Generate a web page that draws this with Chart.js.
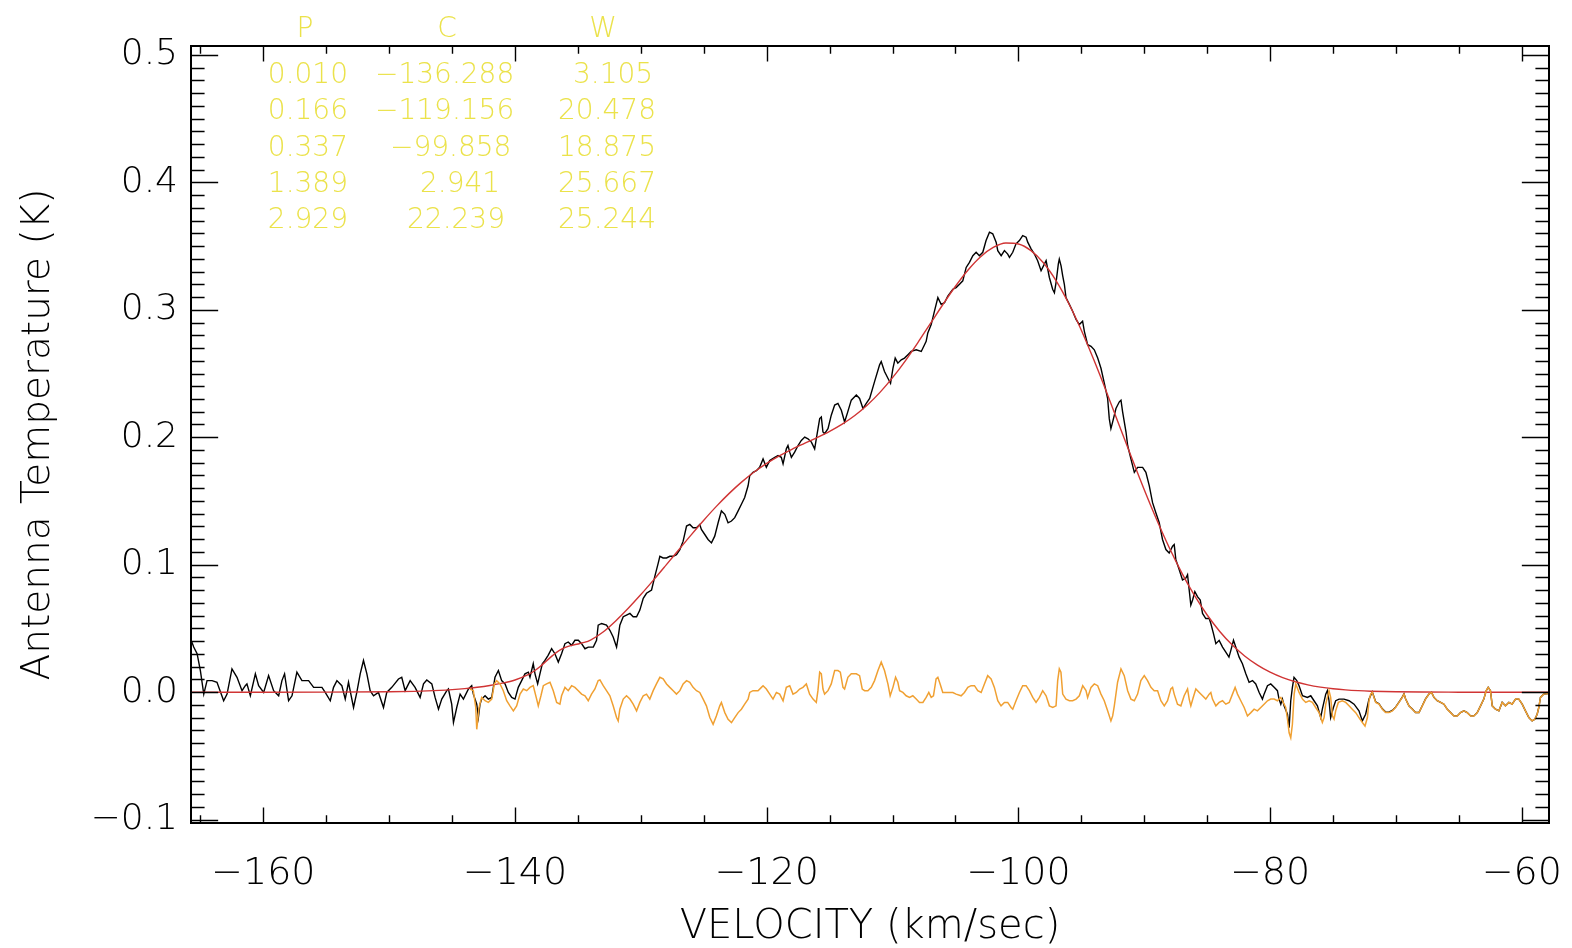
<!DOCTYPE html>
<html>
<head>
<meta charset="utf-8">
<script src="https://cdn.jsdelivr.net/npm/chart.js@4"></script>
<style>
  html, body { margin: 0; padding: 0; background: #ffffff; overflow: hidden; }
  canvas { display: block; background: #ffffff; }
</style>
</head>
<body>
<canvas id="c" width="1572" height="948"></canvas>
<script>
// ---------------- data ----------------
// Gaussian fit parameters shown in the table
const fitPeak   = ['0.010', '0.166', '0.337', '1.389', '2.929'];
const fitCenter = ['\u2212136.288', '\u2212119.156', '\u221299.858', '2.941', '22.239'];
const fitWidth  = ['3.105', '20.478', '18.875', '25.667', '25.244'];
const tableHeaders = ['P', 'C', 'W'];

// Observed spectrum (black), in pieces
const obsVelA = [-165.70,-165.53,-165.26,-165.00,-164.73,-164.47,-164.07,-163.68,-163.15,-162.88,
  -162.49,-162.09,-161.69,-161.43,-161.30,-161.03,-160.63,-160.37,-159.97,-159.58,
  -159.18,-158.78,-158.52,-158.31,-157.99,-157.72,-157.33,-156.93,-156.40,-156.00,
  -155.34,-155.08,-154.68,-154.42,-154.15,-153.76,-153.49,-153.23,-153.10,-152.83,
  -152.57,-152.30,-152.04,-151.77,-151.51,-151.24,-150.85,-150.45,-150.19,-149.79,
  -149.26,-149.00,-148.73,-148.33,-147.94,-147.54,-147.27,-147.01,-146.61,-146.35,
  -146.08,-145.82,-145.42,-145.29,-145.03,-144.89,-144.63,-144.36,-144.10];
const obsTempA = [0.040,0.0354,0.0302,0.0170,-0.0015,0.0091,0.0091,0.0078,-0.0067,-0.0015,
  0.0183,0.0117,0.0012,0.0051,0.0065,-0.0028,0.0144,0.0051,-0.0002,0.0130,
  0.0012,-0.0028,0.0091,0.0144,-0.0067,-0.0028,0.0157,0.0091,0.0091,0.0038,
  0.0038,-0.0002,-0.0067,0.0038,0.0091,0.0051,-0.0054,0.0078,0.0012,-0.0120,
  -0.0002,0.0144,0.0249,0.0144,0.0012,-0.0028,-0.0002,-0.0120,-0.0002,0.0038,
  0.0104,0.0117,0.0012,0.0091,0.0038,-0.0041,0.0065,0.0096,0.0065,-0.0041,
  -0.0133,-0.0054,0.0012,0.0025,-0.0094,-0.0238,-0.0120,-0.0015,-0.0054];

const obsVelB = [-143.70,-143.44,-143.31,-143.04,-142.91,-142.78,-142.65,-142.38,-142.12,-141.85,
  -141.72,-141.59,-141.32,-141.06,-140.79,-140.53,-140.26,-140.00,-139.74,-139.47,
  -139.21,-138.94,-138.81,-138.55,-138.41,-138.20,-138.02,-137.83,-137.62,-137.37,
  -137.09,-136.83,-136.56,-136.30,-136.03,-135.77,-135.50,-135.24,-134.97,-134.71,
  -134.44,-134.18,-133.78,-133.52,-133.39,-133.12,-132.73,-132.46,-132.20,-131.93,
  -131.80,-131.67,-131.40,-131.14,-130.87,-130.61,-130.34,-130.08,-129.81,-129.55,
  -129.15,-128.89,-128.62,-128.49,-128.23,-127.96,-127.70,-127.43,-127.17,-126.90,
  -126.64,-126.37,-126.11,-125.85,-125.58,-125.32,-125.19,-124.92,-124.66,-124.39,
  -124.13,-123.86,-123.60,-123.33,-123.07,-122.80,-122.54,-122.27,-122.01,-121.75,
  -121.48,-121.35,-121.09,-120.82,-120.56,-120.29];
const obsTempB = [0.0025,0.0051,-0.0015,-0.0094,-0.0199,-0.0094,-0.0054,-0.0028,-0.0054,-0.0041,
  0.0038,0.0117,0.0170,0.0091,0.0065,-0.0002,-0.0041,-0.0054,0.0038,0.0091,
  0.0144,0.0157,0.0117,0.0223,0.0144,0.0065,0.0144,0.0223,0.0249,0.0289,
  0.0341,0.0302,0.0236,0.0302,0.0381,0.0394,0.0368,0.0407,0.0407,0.0381,
  0.0341,0.0354,0.0354,0.0407,0.0526,0.0539,0.0526,0.0486,0.0433,0.0354,
  0.0433,0.0526,0.0592,0.0605,0.0618,0.0592,0.0592,0.0644,0.0736,0.0776,
  0.0802,0.0908,0.1013,0.1066,0.1053,0.1053,0.1066,0.1066,0.1079,0.1119,
  0.1185,0.1303,0.1316,0.1290,0.1290,0.1316,0.1277,0.1237,0.1198,0.1171,
  0.1224,0.1329,0.1422,0.1395,0.1329,0.1343,0.1369,0.1422,0.1474,0.1527,
  0.1619,0.1698,0.1725,0.1738,0.1764,0.1830];

const obsVelC = [-120.03,-119.76,-119.36,-119.10,-118.84,-118.70,-118.44,-118.31,-118.17,-118.04,
  -117.78,-117.51,-117.25,-116.98,-116.72,-116.45,-116.19,-116.06,-115.79,-115.66,
  -115.53,-115.40,-115.13,-114.87,-114.60,-114.34,-114.07,-113.81,-113.56,-113.28,
  -112.88,-112.62,-112.35,-112.09,-111.82,-111.43,-111.03,-110.90,-110.64,-110.37,
  -110.16,-109.97,-109.79,-109.58,-109.31,-109.05,-108.78,-108.52,-108.12,-107.72,
  -107.46,-107.33,-107.20,-106.93,-106.67,-106.40,-106.14,-105.87,-105.61,-105.21,
  -104.95,-104.68,-104.42,-104.15,-103.89,-103.62,-103.36,-103.10,-102.83,-102.57,
  -102.30,-102.04,-101.77,-101.64,-101.37];
const obsTempC = [0.1764,0.1817,0.1843,0.1856,0.1843,0.1791,0.1909,0.1935,0.1883,0.1843,
  0.1883,0.1935,0.1975,0.2001,0.1988,0.1962,0.1909,0.1988,0.2146,0.2159,
  0.2041,0.2028,0.2067,0.2173,0.2252,0.2265,0.2212,0.2120,0.2199,0.2291,
  0.2331,0.2304,0.2225,0.2265,0.2304,0.2436,0.2568,0.2594,0.2515,0.2463,
  0.2423,0.2541,0.2621,0.2581,0.2607,0.2621,0.2647,0.2673,0.2686,0.2673,
  0.2726,0.2752,0.2818,0.2884,0.2989,0.3095,0.3042,0.3055,0.3108,0.3161,
  0.3174,0.3200,0.3227,0.3332,0.3372,0.3424,0.3451,0.3424,0.3451,0.3543,
  0.3609,0.3596,0.3530,0.3464,0.3424];

const obsVelD = [-101.11,-100.85,-100.71,-100.45,-100.19,-99.92,-99.66,-99.39,-99.26,-98.99,
  -98.73,-98.47,-98.20,-97.94,-97.80,-97.54,-97.28,-97.14,-97.01,-96.83,
  -96.75,-96.61,-96.48,-96.35,-96.22,-95.95,-95.69,-95.42,-95.16,-94.90,
  -94.76,-94.50,-94.23,-93.97,-93.70,-93.44,-93.17,-92.91,-92.78,-92.65,
  -92.51,-92.25,-91.98,-91.85,-91.72,-91.45,-91.32,-91.06,-90.79,-90.53,
  -90.13,-89.87,-89.60,-89.34,-89.08,-88.81,-88.55,-88.28,-88.02,-87.75,
  -87.62,-87.49,-87.22,-86.96];
const obsTempD = [0.3464,0.3437,0.3411,0.3451,0.3517,0.3543,0.3582,0.3569,0.3530,0.3478,
  0.3437,0.3385,0.3306,0.3358,0.3385,0.3253,0.3161,0.3134,0.3213,0.3358,
  0.3398,0.3345,0.3266,0.3200,0.3095,0.3042,0.2989,0.2924,0.2884,0.2910,
  0.2831,0.2726,0.2713,0.2686,0.2621,0.2541,0.2423,0.2304,0.2146,0.2067,
  0.2120,0.2225,0.2278,0.2291,0.2199,0.2041,0.1935,0.1830,0.1725,0.1764,
  0.1764,0.1725,0.1619,0.1487,0.1408,0.1329,0.1198,0.1119,0.1092,0.1145,
  0.1158,0.1040,0.0960,0.0881];

const obsVelE = [-86.69,-86.56,-86.43,-86.30,-86.16,-85.98,-85.77,-85.55,-85.37,-85.11,
  -84.84,-84.71,-84.50,-84.31,-84.05,-83.78,-83.52,-83.27,-83.12,-82.91,
  -82.73,-82.46,-82.20,-81.93,-81.67,-81.40,-81.14,-80.87,-80.61,-80.48,
  -80.21,-79.95,-79.68,-79.42,-79.29,-79.15,-79.02,-78.89,-78.62,-78.49,
  -78.36,-78.23,-78.10,-77.88,-77.70,-77.43,-77.04,-76.77,-76.51,-76.24,
  -75.98,-75.85,-75.58,-75.45,-75.32,-75.19,-74.97,-74.79,-74.52,-74.13,
  -73.73,-73.33,-72.94,-72.67,-72.41,-72.14];
const obsTempE = [0.0895,0.0921,0.0802,0.0684,0.0723,0.0789,0.0750,0.0723,0.0618,0.0578,
  0.0578,0.0539,0.0460,0.0381,0.0407,0.0354,0.0315,0.0275,0.0328,0.0407,
  0.0354,0.0275,0.0223,0.0144,0.0078,0.0091,0.0065,-0.0002,-0.0054,-0.0015,
  0.0051,0.0065,0.0038,0.0012,-0.0054,-0.0094,-0.0054,-0.0107,-0.0173,-0.0278,
  -0.0067,0.0038,0.0117,0.0091,0.0051,-0.0028,-0.0041,-0.0028,-0.0067,-0.0107,
  -0.0199,-0.0133,-0.0015,0.0012,-0.0067,-0.0199,-0.0120,-0.0067,-0.0054,-0.0054,
  -0.0067,-0.0094,-0.0146,-0.0225,-0.0173,-0.0054];

const obsVelF = [-71.88,-71.61,-71.35,-71.08,-70.82,-70.56,-70.29,-70.03,-69.76,-69.50,
  -69.36,-69.23,-68.97,-68.70,-68.44,-68.17,-67.91,-67.65,-67.38,-67.17,
  -66.98,-66.72,-66.45,-66.19,-65.93,-65.66,-65.40,-65.13,-64.87,-64.60,
  -64.34,-64.07,-63.81,-63.54,-63.28,-63.02,-62.83,-62.67,-62.49,-62.35,
  -62.09,-61.82,-61.56,-61.30,-61.03,-60.77,-60.50,-60.24,-59.97,-59.71,
  -59.44,-59.18,-58.97,-58.78,-58.65,-58.52,-58.26,-57.90];
const obsTempF = [0.0003,-0.0076,-0.0090,-0.0130,-0.0156,-0.0157,-0.0143,-0.0117,-0.0078,-0.0039,
  -0.0013,-0.0053,-0.0106,-0.0132,-0.0159,-0.0159,-0.0106,-0.0053,-0.0014,-0.0001,
  -0.0041,-0.0067,-0.0080,-0.0094,-0.0133,-0.0160,-0.0186,-0.0186,-0.0160,-0.0146,
  -0.0160,-0.0186,-0.0186,-0.0160,-0.0107,-0.0054,0.0012,0.0038,0.0012,-0.0107,
  -0.0133,-0.0146,-0.0080,-0.0107,-0.0080,-0.0094,-0.0054,-0.0054,-0.0094,-0.0146,
  -0.0199,-0.0225,-0.0212,-0.0173,-0.0120,-0.0041,-0.0015,-0.0010];

// Gaussian fit (red)
const fitVel = [-165.7,-160,-155,-150,-148,-146,-145,-144,-143,-142,-141,-140,-139,-138.5,-138,
  -137.5,-137,-136.5,-136,-135.5,-135,-134.5,-134,-133,-132,-131,-130,-129,-128,-127,-126,
  -125,-124,-123,-122,-121,-120,-119,-118,-117,-116,-115,-114,-113,-112,-111,-110,-109,
  -108,-107,-106,-105,-104,-103,-102,-101,-100,-99,-98,-97,-96,-95,-94,-93,-92,-91,-90,
  -89,-88,-87,-86,-85,-84,-83,-82,-81,-80,-79,-78,-77,-76,-75,-74,-73,-72,-71,-70,-68,-65,-57.84];
const fitTemp = [0,0,0.00003,0.00031,0.00068,0.00142,0.0020,0.0028,0.00387,0.00527,0.00708,0.00957,0.0135,0.01646,0.02016,
  0.02452,0.02886,0.03263,0.03519,0.03678,0.0378,0.03903,0.04093,0.04727,0.05594,0.06584,0.07658,0.08793,0.09969,0.1116,0.12343,
  0.1349,0.14576,0.15577,0.16478,0.17271,0.17955,0.18544,0.19056,0.19521,0.19978,0.20467,0.2103,0.21709,0.22532,0.23519,0.24672,0.25977,
  0.27408,0.28907,0.30412,0.31845,0.33123,0.34163,0.34889,0.35237,0.35162,0.34639,0.33668,0.32271,0.30493,0.28397,0.26054,0.23551,0.20967,0.18387,0.15879,
  0.13504,0.11308,0.09326,0.07573,0.06054,0.04766,0.03694,0.02819,0.02118,0.01566,0.01141,0.00818,0.00578,0.00402,0.00275,0.00185,0.00123,0.0008,0.00052,0.00033,0.00012,0.00002,0];

// Residual (orange), in pieces
const resVelA = [-143.57,-143.31,-143.12,-143.04,-142.86,-142.65,-142.38,-142.12,-141.85,-141.64,
  -141.46,-141.19,-140.93,-140.66,-140.40,-140.13,-139.87,-139.60,-139.34,-139.07,
  -138.81,-138.55,-138.28,-138.15,-137.94,-137.75,-137.49,-137.22,-136.96,-136.69,
  -136.43,-136.30,-136.03,-135.77,-135.50,-135.24,-134.97,-134.71,-134.44,-134.18,
  -133.92,-133.65,-133.39,-133.25,-132.99,-132.73,-132.46,-132.20,-131.93,-131.80,
  -131.67,-131.40,-131.14,-130.87,-130.61,-130.34,-130.08,-129.81,-129.55,-129.29,
  -129.02,-128.76,-128.49,-128.23,-127.96,-127.70,-127.43,-127.17,-126.90,-126.64,
  -126.37,-126.11,-125.85,-125.58,-125.32,-125.05,-124.79,-124.52,-124.26,-124.00,
  -123.73,-123.60,-123.33,-123.07,-122.80,-122.54,-122.27,-122.01,-121.75,-121.48,
  -121.35,-121.09,-120.69,-120.42,-120.29,-120.03,-119.76,-119.50,-119.23,-118.97,
  -118.70,-118.44,-118.17,-117.91,-117.65,-117.38,-117.12,-116.85,-116.59,-116.32,
  -116.06,-115.93,-115.79,-115.66];
const resTempA = [0.0025,0.0012,-0.0120,-0.0291,-0.0120,-0.0041,-0.0067,-0.0080,-0.0054,0.0065,
  0.0091,0.0065,0.0012,-0.0067,-0.0107,-0.0146,-0.0107,-0.0015,0.0025,0.0012,
  0.0038,0.0051,-0.0054,-0.0107,-0.0028,0.0051,0.0065,0.0078,0.0012,-0.0080,
  -0.0094,-0.0028,0.0038,0.0012,0.0051,0.0038,0.0012,-0.0015,-0.0028,-0.0067,
  -0.0015,0.0025,0.0091,0.0096,0.0051,0.0012,-0.0028,-0.0107,-0.0199,-0.0225,
  -0.0133,-0.0054,-0.0028,-0.0054,-0.0094,-0.0146,-0.0080,-0.0028,-0.0015,-0.0054,
  0.0012,0.0065,0.0117,0.0104,0.0065,0.0038,0.0012,-0.0015,0.0012,0.0065,
  0.0091,0.0078,0.0038,0.0012,-0.0002,-0.0054,-0.0107,-0.0199,-0.0252,-0.0186,
  -0.0107,-0.0080,-0.0160,-0.0212,-0.0238,-0.0199,-0.0160,-0.0133,-0.0094,-0.0054,
  -0.0002,0.0012,0.0012,0.0038,0.0051,0.0025,-0.0015,-0.0054,-0.0002,-0.0015,
  -0.0067,0.0038,0.0051,-0.0015,-0.0002,0.0025,0.0038,0.0065,-0.0015,-0.0054,
  -0.0080,0.0012,0.0157,0.0144];

const resVelB = [-115.53,-115.40,-115.13,-114.87,-114.60,-114.34,-114.15,-113.94,-113.81,-113.55,
  -113.28,-112.88,-112.62,-112.41,-112.22,-111.96,-111.69,-111.43,-111.16,-110.90,
  -110.64,-110.37,-110.19,-109.97,-109.76,-109.58,-109.44,-109.18,-108.92,-108.65,
  -108.39,-108.12,-107.86,-107.59,-107.33,-107.12,-106.93,-106.75,-106.54,-106.40,
  -106.22,-106.01,-105.61,-105.21,-104.95,-104.55,-104.29,-104.02,-103.76,-103.49,
  -103.23,-102.96,-102.70,-102.44,-102.17,-101.91,-101.64,-101.38,-101.11,-100.85,
  -100.58,-100.45,-100.19,-99.92,-99.66,-99.39,-99.13,-98.86,-98.60,-98.33,
  -98.07,-97.80,-97.54,-97.27,-97.01,-96.88,-96.75,-96.62,-96.48,-96.22,
  -95.95,-95.69,-95.42,-95.16,-94.89,-94.63,-94.50,-94.23,-93.97,-93.70,
  -93.44,-93.18,-92.91,-92.65,-92.51,-92.38,-92.12,-91.85,-91.59,-91.32,
  -91.06,-90.79,-90.53,-90.27,-90.00,-89.74,-89.47,-89.21,-88.94,-88.68,
  -88.41,-88.15,-87.89,-87.75,-87.62,-87.36,-87.09,-86.83,-86.56];
const resTempB = [0.0025,-0.0015,0.0012,0.0065,0.0170,0.0170,0.0157,0.0038,0.0025,0.0117,
  0.0144,0.0144,0.0130,0.0025,0.0012,0.0012,0.0038,0.0091,0.0170,0.0236,
  0.0170,0.0065,-0.0028,0.0038,0.0117,0.0078,0.0012,-0.0002,-0.0028,-0.0041,
  -0.0028,-0.0054,-0.0080,-0.0080,-0.0041,-0.0002,-0.0041,-0.0028,0.0104,0.0117,
  0.0065,-0.0002,-0.0002,-0.0002,-0.0015,-0.0028,-0.0002,0.0038,0.0051,0.0051,
  0.0012,-0.0002,0.0065,0.0130,0.0104,0.0038,-0.0067,-0.0107,-0.0080,-0.0080,
  -0.0120,-0.0133,-0.0067,-0.0002,0.0051,0.0051,0.0012,-0.0041,-0.0080,-0.0041,
  0.0012,-0.0028,-0.0107,-0.0120,-0.0107,0.0091,0.0183,0.0157,-0.0015,-0.0054,
  -0.0067,-0.0067,-0.0054,-0.0028,0.0051,0.0012,-0.0041,0.0038,0.0065,0.0051,
  -0.0015,-0.0067,-0.0146,-0.0225,-0.0186,-0.0107,0.0078,0.0183,0.0130,0.0012,
  -0.0054,-0.0067,-0.0015,0.0091,0.0130,0.0091,0.0038,0.0012,0.0012,-0.0067,
  -0.0107,-0.0067,0.0025,0.0038,-0.0015,-0.0094,-0.0107,-0.0028,0.0025];

const resVelC = [-86.43,-86.30,-86.11,-85.90,-85.63,-85.37,-85.11,-84.84,-84.71,-84.58,
  -84.31,-84.05,-83.78,-83.52,-83.25,-82.99,-82.78,-82.59,-82.33,-82.06,
  -81.80,-81.53,-81.27,-81.01,-80.74,-80.48,-80.21,-79.95,-79.68,-79.42,
  -79.15,-78.89,-78.76,-78.62,-78.49,-78.36,-78.23,-78.09,-77.96,-77.70,
  -77.43,-77.17,-76.90,-76.64,-76.38,-76.11,-75.85,-75.71,-75.58,-75.45,
  -75.32,-75.19,-75.05,-74.92,-74.79,-74.58,-74.26,-73.99,-73.73,-73.47,
  -73.20,-72.94,-72.67,-72.46,-72.27,-72.14,-72.01,-71.88,-71.61,-71.35,
  -71.08,-70.82,-70.56,-70.29,-70.03,-69.76,-69.50,-69.36,-69.23,-68.97,
  -68.70,-68.44,-68.17,-67.91,-67.65,-67.38,-67.17,-66.98,-66.72,-66.45,
  -66.19,-65.93,-65.66,-65.40,-65.13,-64.87,-64.60,-64.34,-64.07,-63.81,
  -63.54,-63.28,-63.02,-62.83,-62.67,-62.49,-62.35,-62.09,-61.82,-61.56,
  -61.30,-61.03,-60.77,-60.50,-60.24,-59.97,-59.71,-59.44,-59.18,-58.97,
  -58.78,-58.65,-58.52,-58.26,-57.90];
const resTempC = [-0.0054,-0.0107,-0.0041,0.0025,-0.0002,-0.0028,-0.0054,-0.0015,-0.0002,-0.0054,
  -0.0107,-0.0080,-0.0067,-0.0094,-0.0080,-0.0015,0.0038,-0.0015,-0.0067,-0.0120,
  -0.0186,-0.0160,-0.0133,-0.0146,-0.0120,-0.0094,-0.0067,-0.0054,-0.0054,-0.0067,
  -0.0041,-0.0094,-0.0120,-0.0212,-0.0318,-0.0357,-0.0252,-0.0015,0.0065,-0.0002,
  -0.0054,-0.0080,-0.0067,-0.0080,-0.0120,-0.0160,-0.0238,-0.0199,-0.0094,-0.0041,
  0.0012,-0.0041,-0.0186,-0.0212,-0.0146,-0.0080,-0.0067,-0.0080,-0.0107,-0.0133,
  -0.0160,-0.0199,-0.0238,-0.0265,-0.0199,-0.0067,-0.0015,-0.0002,-0.0080,-0.0094,
  -0.0133,-0.0160,-0.0160,-0.0146,-0.0120,-0.0080,-0.0041,-0.0015,-0.0054,-0.0107,
  -0.0133,-0.0160,-0.0160,-0.0107,-0.0054,-0.0015,-0.0002,-0.0041,-0.0067,-0.0080,
  -0.0094,-0.0133,-0.0160,-0.0186,-0.0186,-0.0160,-0.0146,-0.0160,-0.0186,-0.0186,
  -0.0160,-0.0107,-0.0054,0.0012,0.0038,0.0012,-0.0107,-0.0133,-0.0146,-0.0080,
  -0.0107,-0.0080,-0.0094,-0.0054,-0.0054,-0.0094,-0.0146,-0.0199,-0.0225,-0.0212,
  -0.0173,-0.0120,-0.0041,-0.0015,-0.0010];

// axis ranges and tick steps
const xRange = [-165.745, -57.84];
const yRange = [-0.1026, 0.5069];
const xMajorStep = 20, xMinorStep = 5;
const yMajorStep = 0.1, yMinorStep = 0.01;

// ---------------- build datasets ----------------
function pairs(xs, ys) { return xs.map((v, i) => ({ x: v, y: ys[i] })); }
const obsPoints = pairs(
  [].concat(obsVelA, obsVelB, obsVelC, obsVelD, obsVelE, obsVelF),
  [].concat(obsTempA, obsTempB, obsTempC, obsTempD, obsTempE, obsTempF));
const fitPoints = pairs(fitVel, fitTemp);
const resPoints = pairs([].concat(resVelA, resVelB, resVelC), [].concat(resTempA, resTempB, resTempC));

const FONT = "'DejaVu Sans', 'Liberation Sans', sans-serif";
const minusFmt = (v, d) => {
  const s = Math.abs(v).toFixed(d);
  return (v < -1e-9 ? '\u2212' : '') + s;
};

// IDL-style frame with inward ticks, plus the fit-parameter table
const idlFrame = {
  id: 'idlFrame',
  afterDraw(chart) {
    const { ctx, chartArea: a, scales: { x, y } } = chart;
    ctx.save();
    ctx.strokeStyle = '#000';
    ctx.lineWidth = 1.4;
    ctx.beginPath();
    const xl = 0.02 * a.height, yl = 0.02 * a.width;
    for (let i = Math.ceil(x.min / xMinorStep); i * xMinorStep <= x.max; i++) {
      const v = i * xMinorStep;
      const px = Math.round(x.getPixelForValue(v)) + 0.5;
      const len = (Math.abs(v % xMajorStep) < 1e-9) ? xl : xl / 2;
      ctx.moveTo(px, a.bottom); ctx.lineTo(px, a.bottom - len);
      ctx.moveTo(px, a.top); ctx.lineTo(px, a.top + len);
    }
    for (let i = Math.ceil(y.min / yMinorStep - 1e-9); i * yMinorStep <= y.max + 1e-9; i++) {
      const py = Math.round(y.getPixelForValue(i * yMinorStep)) + 0.5;
      const len = (i % 10 === 0) ? yl : yl / 2;
      ctx.moveTo(a.left, py); ctx.lineTo(a.left + len, py);
      ctx.moveTo(a.right, py); ctx.lineTo(a.right - len, py);
    }
    ctx.stroke();
    ctx.lineWidth = 2;
    ctx.strokeRect(a.left, a.top, a.right - a.left, a.bottom - a.top);

    // table of fit parameters
    ctx.fillStyle = '#ebe24a';
    ctx.font = "200 28px " + FONT;
    ctx.textBaseline = 'middle';
    ctx.textAlign = 'center';
    const headX = [305, 447, 603];
    tableHeaders.forEach((h, i) => ctx.fillText(h, headX[i], 29.5));
    const leftC = [375, 375, 390, 420, 407];
    const leftW = [573, 558, 558, 558, 558];
    for (let r = 0; r < fitPeak.length; r++) {
      const ty = 75.5 + r * 36.4;
      ctx.textAlign = 'right';
      ctx.fillText(fitPeak[r], 348, ty);
      ctx.textAlign = 'left';
      ctx.fillText(fitCenter[r], leftC[r], ty);
      ctx.fillText(fitWidth[r], leftW[r], ty);
    }
    ctx.restore();
  }
};

new Chart(document.getElementById('c').getContext('2d'), {
  type: 'scatter',
  data: {
    datasets: [
      { label: 'Residual', data: resPoints, showLine: true, borderColor: '#f0a032', borderWidth: 1.5,
        pointRadius: 0, tension: 0, order: 1 },
      { label: 'Fit', data: fitPoints, showLine: true, borderColor: '#d03434', borderWidth: 1.4,
        pointRadius: 0, cubicInterpolationMode: 'monotone', order: 2 },
      { label: 'Observed', data: obsPoints, showLine: true, borderColor: '#000000', borderWidth: 1.4,
        pointRadius: 0, tension: 0, order: 3 }
    ]
  },
  options: {
    responsive: false,
    animation: false,
    devicePixelRatio: 1,
    layout: { padding: { left: 0, top: 46, right: 23, bottom: 0 } },
    plugins: { legend: { display: false }, tooltip: { enabled: false } },
    scales: {
      x: {
        type: 'linear', position: 'bottom',
        min: xRange[0], max: xRange[1],
        grid: { display: false, drawTicks: false },
        border: { display: false },
        ticks: {
          stepSize: xMajorStep, includeBounds: false, autoSkip: false, maxRotation: 0,
          padding: 28, color: '#000',
          font: { family: FONT, size: 38, weight: '200' },
          callback: v => minusFmt(v, 0)
        },
        title: { display: true, text: 'VELOCITY (km/sec)', color: '#000',
          font: { family: FONT, size: 40, weight: '200', lineHeight: 1 }, padding: { top: 0, bottom: 0 } },
        afterFit(s) { s.height = 125; s.paddingLeft = 0; s.paddingRight = 0; }
      },
      y: {
        type: 'linear', position: 'left',
        min: yRange[0], max: yRange[1],
        grid: { display: false, drawTicks: false },
        border: { display: false },
        ticks: {
          stepSize: yMajorStep, includeBounds: false, autoSkip: false,
          padding: 13, color: '#000',
          font: { family: FONT, size: 36, weight: '200' },
          callback: v => minusFmt(v, 1)
        },
        title: { display: true, text: 'Antenna Temperature (K)', color: '#000',
          font: { family: FONT, size: 39, weight: '200' }, padding: { top: 15, bottom: 0 } },
        afterFit(s) { s.width = 191; s.paddingTop = 0; s.paddingBottom = 0; }
      }
    }
  },
  plugins: [idlFrame]
});
</script>
</body>
</html>
